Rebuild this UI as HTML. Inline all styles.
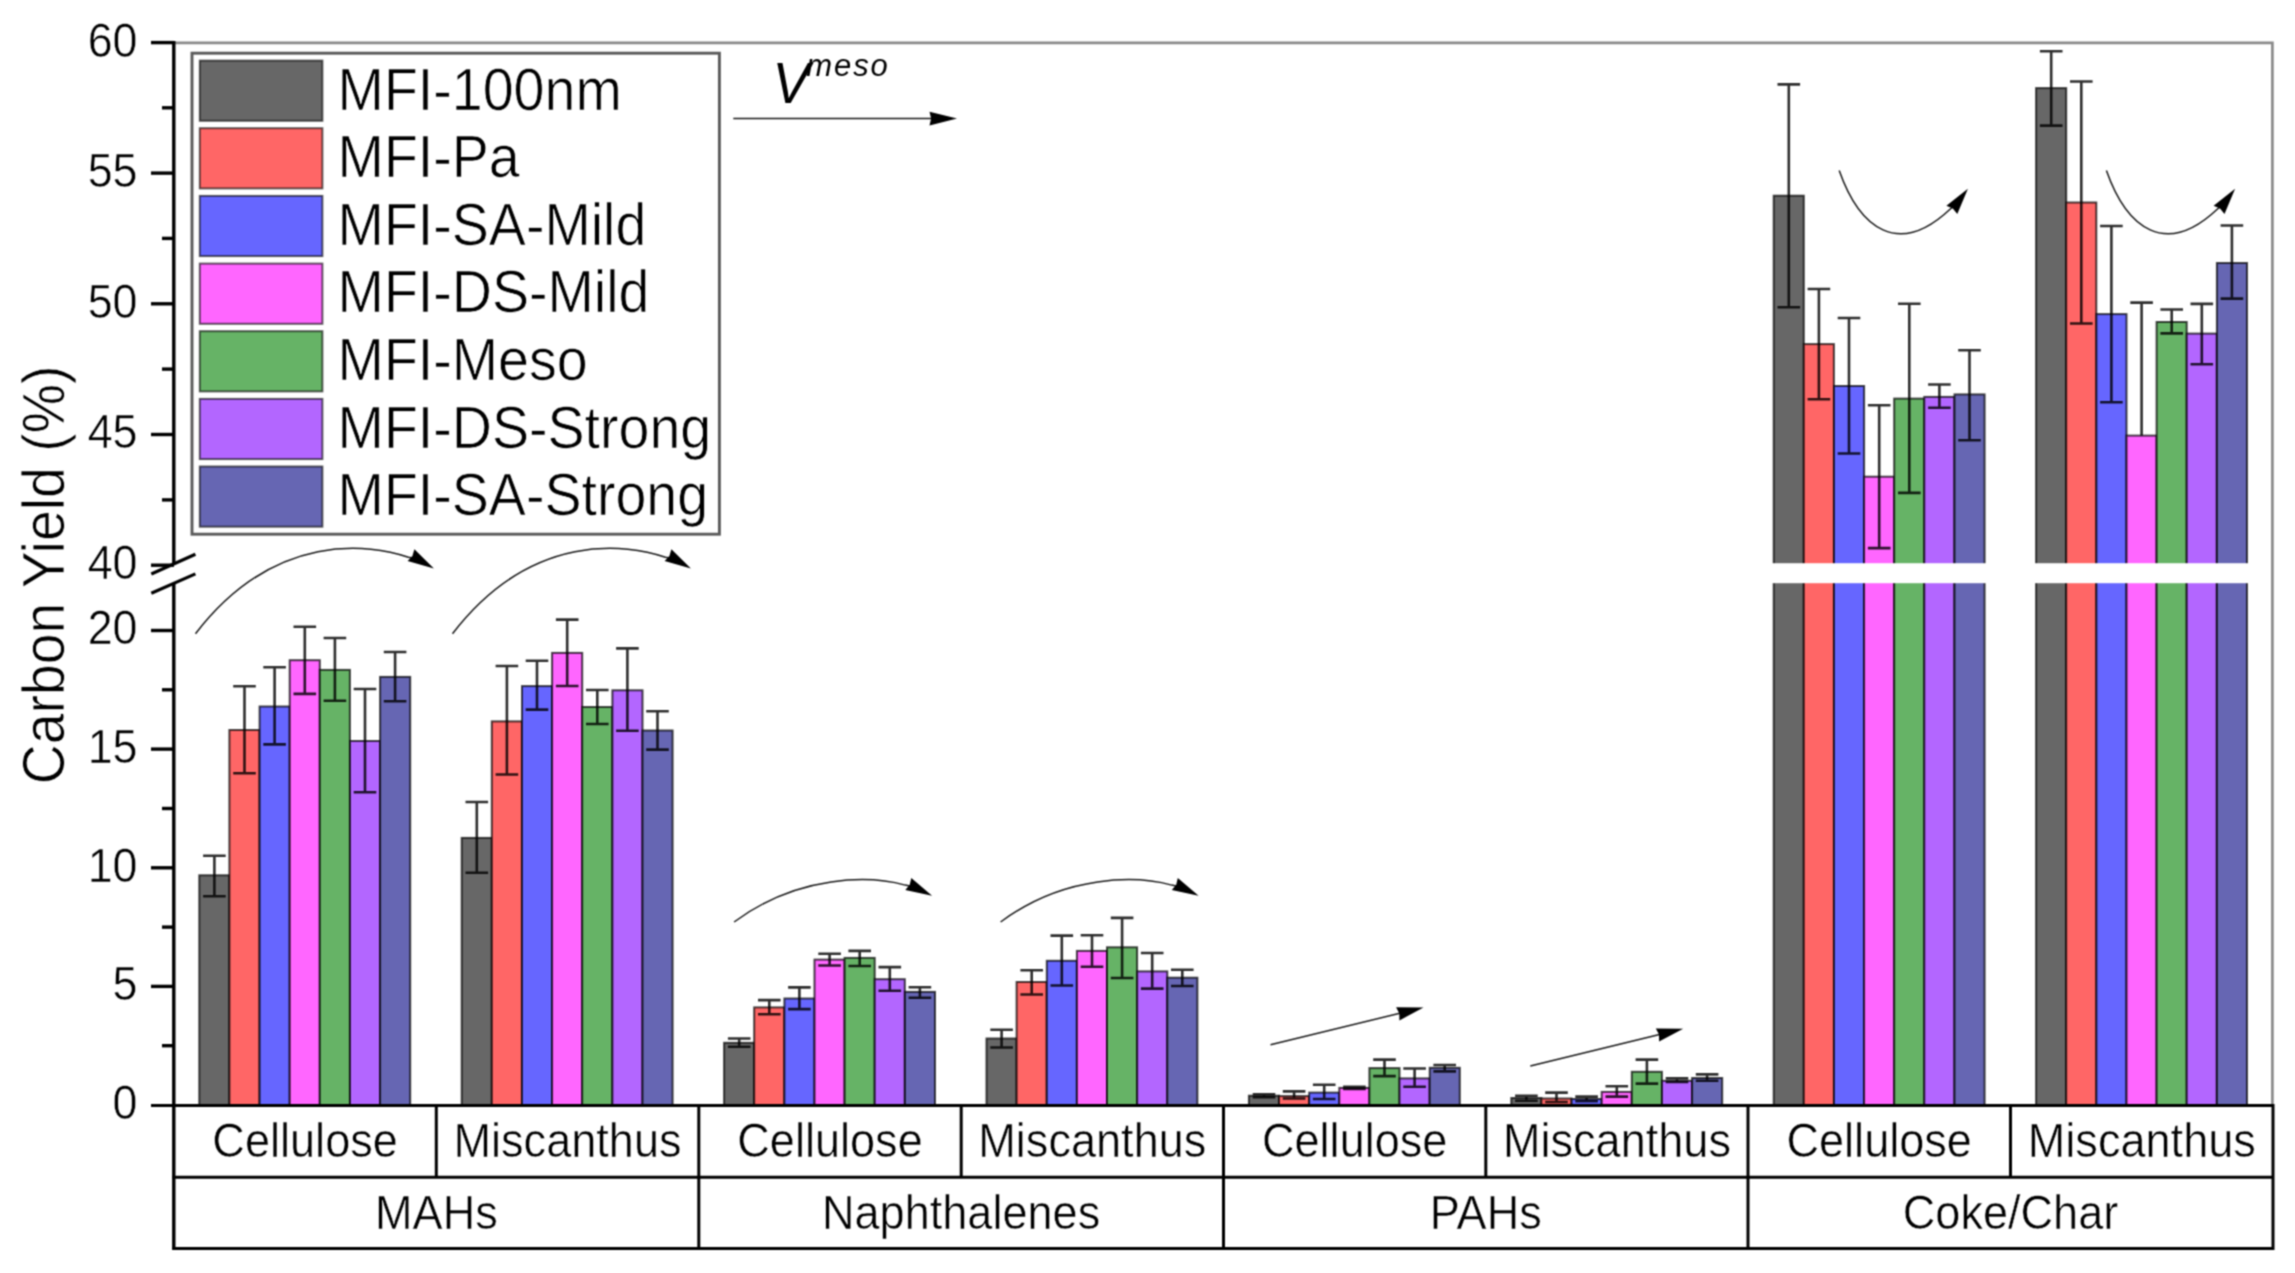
<!DOCTYPE html>
<html lang="en"><head><meta charset="utf-8"><title>Carbon Yield</title>
<style>html,body{margin:0;padding:0;background:#fff}body{width:2295px;height:1273px;overflow:hidden}svg{display:block}text{font-family:"Liberation Sans",sans-serif;fill:#000}</style></head><body>
<svg width="2295" height="1273" viewBox="0 0 2295 1273">
<defs><filter id="soft" x="0" y="0" width="100%" height="100%" filterUnits="objectBoundingBox" color-interpolation-filters="sRGB"><feConvolveMatrix order="3" kernelMatrix="0.0529 0.1242 0.0529 0.1242 0.2916 0.1242 0.0529 0.1242 0.0529" edgeMode="duplicate" preserveAlpha="true"/></filter></defs>
<g filter="url(#soft)">
<rect width="2295" height="1273" fill="#fff"/>
<path d="M174 42.8H2272.4V1105" fill="none" stroke="#8a8a8a" stroke-width="2.7"/>
<rect x="199.3" y="875.3" width="30.1" height="230.1" fill="#676767" stroke="#000" stroke-opacity=".7" stroke-width="2"/>
<rect x="229.4" y="730.0" width="30.1" height="375.4" fill="#FF6666" stroke="#000" stroke-opacity=".7" stroke-width="2"/>
<rect x="259.6" y="706.5" width="30.1" height="398.9" fill="#6666FF" stroke="#000" stroke-opacity=".7" stroke-width="2"/>
<rect x="289.7" y="660.2" width="30.1" height="445.2" fill="#FF66FF" stroke="#000" stroke-opacity=".7" stroke-width="2"/>
<rect x="319.8" y="669.9" width="30.1" height="435.5" fill="#66B366" stroke="#000" stroke-opacity=".7" stroke-width="2"/>
<rect x="350.0" y="741.0" width="30.1" height="364.4" fill="#B366FF" stroke="#000" stroke-opacity=".7" stroke-width="2"/>
<rect x="380.1" y="676.9" width="30.1" height="428.5" fill="#6666B3" stroke="#000" stroke-opacity=".7" stroke-width="2"/>
<path d="M203.1 855.7H225.7M214.4 855.7V896.3M203.1 896.3H225.7" fill="none" stroke="#000" stroke-opacity=".82" stroke-width="2.6"/>
<path d="M233.2 686.3H255.8M244.5 686.3V773.2M233.2 773.2H255.8" fill="none" stroke="#000" stroke-opacity=".82" stroke-width="2.6"/>
<path d="M263.3 667.2H285.9M274.6 667.2V744.4M263.3 744.4H285.9" fill="none" stroke="#000" stroke-opacity=".82" stroke-width="2.6"/>
<path d="M293.5 626.7H316.1M304.8 626.7V693.9M293.5 693.9H316.1" fill="none" stroke="#000" stroke-opacity=".82" stroke-width="2.6"/>
<path d="M323.6 638.0H346.2M334.9 638.0V700.7M323.6 700.7H346.2" fill="none" stroke="#000" stroke-opacity=".82" stroke-width="2.6"/>
<path d="M353.7 689.0H376.3M365.0 689.0V792.3M353.7 792.3H376.3" fill="none" stroke="#000" stroke-opacity=".82" stroke-width="2.6"/>
<path d="M383.8 652.0H406.4M395.1 652.0V701.2M383.8 701.2H406.4" fill="none" stroke="#000" stroke-opacity=".82" stroke-width="2.6"/>
<rect x="461.7" y="837.9" width="30.1" height="267.5" fill="#676767" stroke="#000" stroke-opacity=".7" stroke-width="2"/>
<rect x="491.8" y="721.4" width="30.1" height="384.0" fill="#FF6666" stroke="#000" stroke-opacity=".7" stroke-width="2"/>
<rect x="522.0" y="686.1" width="30.1" height="419.3" fill="#6666FF" stroke="#000" stroke-opacity=".7" stroke-width="2"/>
<rect x="552.1" y="652.9" width="30.1" height="452.5" fill="#FF66FF" stroke="#000" stroke-opacity=".7" stroke-width="2"/>
<rect x="582.2" y="707.0" width="30.1" height="398.4" fill="#66B366" stroke="#000" stroke-opacity=".7" stroke-width="2"/>
<rect x="612.4" y="690.3" width="30.1" height="415.1" fill="#B366FF" stroke="#000" stroke-opacity=".7" stroke-width="2"/>
<rect x="642.5" y="730.5" width="30.1" height="374.9" fill="#6666B3" stroke="#000" stroke-opacity=".7" stroke-width="2"/>
<path d="M465.5 802.0H488.1M476.8 802.0V872.7M465.5 872.7H488.1" fill="none" stroke="#000" stroke-opacity=".82" stroke-width="2.6"/>
<path d="M495.6 666.0H518.2M506.9 666.0V774.5M495.6 774.5H518.2" fill="none" stroke="#000" stroke-opacity=".82" stroke-width="2.6"/>
<path d="M525.7 660.7H548.3M537.0 660.7V709.6M525.7 709.6H548.3" fill="none" stroke="#000" stroke-opacity=".82" stroke-width="2.6"/>
<path d="M555.9 619.6H578.5M567.2 619.6V686.0M555.9 686.0H578.5" fill="none" stroke="#000" stroke-opacity=".82" stroke-width="2.6"/>
<path d="M586.0 690.0H608.6M597.3 690.0V724.0M586.0 724.0H608.6" fill="none" stroke="#000" stroke-opacity=".82" stroke-width="2.6"/>
<path d="M616.1 648.4H638.7M627.4 648.4V730.8M616.1 730.8H638.7" fill="none" stroke="#000" stroke-opacity=".82" stroke-width="2.6"/>
<path d="M646.2 711.2H668.8M657.5 711.2V749.6M646.2 749.6H668.8" fill="none" stroke="#000" stroke-opacity=".82" stroke-width="2.6"/>
<rect x="724.1" y="1042.8" width="30.1" height="62.6" fill="#676767" stroke="#000" stroke-opacity=".7" stroke-width="2"/>
<rect x="754.2" y="1007.4" width="30.1" height="98.0" fill="#FF6666" stroke="#000" stroke-opacity=".7" stroke-width="2"/>
<rect x="784.4" y="998.5" width="30.1" height="106.9" fill="#6666FF" stroke="#000" stroke-opacity=".7" stroke-width="2"/>
<rect x="814.5" y="959.6" width="30.1" height="145.8" fill="#FF66FF" stroke="#000" stroke-opacity=".7" stroke-width="2"/>
<rect x="844.6" y="957.9" width="30.1" height="147.5" fill="#66B366" stroke="#000" stroke-opacity=".7" stroke-width="2"/>
<rect x="874.7" y="979.2" width="30.1" height="126.2" fill="#B366FF" stroke="#000" stroke-opacity=".7" stroke-width="2"/>
<rect x="904.9" y="991.9" width="30.1" height="113.5" fill="#6666B3" stroke="#000" stroke-opacity=".7" stroke-width="2"/>
<path d="M727.9 1038.5H750.5M739.2 1038.5V1046.8M727.9 1046.8H750.5" fill="none" stroke="#000" stroke-opacity=".82" stroke-width="2.6"/>
<path d="M758.0 1000.1H780.6M769.3 1000.1V1014.3M758.0 1014.3H780.6" fill="none" stroke="#000" stroke-opacity=".82" stroke-width="2.6"/>
<path d="M788.1 987.4H810.7M799.4 987.4V1009.1M788.1 1009.1H810.7" fill="none" stroke="#000" stroke-opacity=".82" stroke-width="2.6"/>
<path d="M818.3 953.7H840.9M829.6 953.7V965.5M818.3 965.5H840.9" fill="none" stroke="#000" stroke-opacity=".82" stroke-width="2.6"/>
<path d="M848.4 950.9H871.0M859.7 950.9V966.0M848.4 966.0H871.0" fill="none" stroke="#000" stroke-opacity=".82" stroke-width="2.6"/>
<path d="M878.5 967.1H901.1M889.8 967.1V990.7M878.5 990.7H901.1" fill="none" stroke="#000" stroke-opacity=".82" stroke-width="2.6"/>
<path d="M908.6 987.2H931.2M919.9 987.2V997.8M908.6 997.8H931.2" fill="none" stroke="#000" stroke-opacity=".82" stroke-width="2.6"/>
<rect x="986.5" y="1038.5" width="30.1" height="66.9" fill="#676767" stroke="#000" stroke-opacity=".7" stroke-width="2"/>
<rect x="1016.6" y="982.0" width="30.1" height="123.4" fill="#FF6666" stroke="#000" stroke-opacity=".7" stroke-width="2"/>
<rect x="1046.8" y="960.8" width="30.1" height="144.6" fill="#6666FF" stroke="#000" stroke-opacity=".7" stroke-width="2"/>
<rect x="1076.9" y="950.9" width="30.1" height="154.5" fill="#FF66FF" stroke="#000" stroke-opacity=".7" stroke-width="2"/>
<rect x="1107.0" y="947.3" width="30.1" height="158.1" fill="#66B366" stroke="#000" stroke-opacity=".7" stroke-width="2"/>
<rect x="1137.2" y="971.4" width="30.1" height="134.0" fill="#B366FF" stroke="#000" stroke-opacity=".7" stroke-width="2"/>
<rect x="1167.3" y="977.7" width="30.1" height="127.7" fill="#6666B3" stroke="#000" stroke-opacity=".7" stroke-width="2"/>
<path d="M990.3 1029.8H1012.9M1001.6 1029.8V1047.5M990.3 1047.5H1012.9" fill="none" stroke="#000" stroke-opacity=".82" stroke-width="2.6"/>
<path d="M1020.4 970.2H1043.0M1031.7 970.2V994.5M1020.4 994.5H1043.0" fill="none" stroke="#000" stroke-opacity=".82" stroke-width="2.6"/>
<path d="M1050.5 935.6H1073.1M1061.8 935.6V985.5M1050.5 985.5H1073.1" fill="none" stroke="#000" stroke-opacity=".82" stroke-width="2.6"/>
<path d="M1080.7 935.3H1103.3M1092.0 935.3V966.7M1080.7 966.7H1103.3" fill="none" stroke="#000" stroke-opacity=".82" stroke-width="2.6"/>
<path d="M1110.8 917.9H1133.4M1122.1 917.9V978.0M1110.8 978.0H1133.4" fill="none" stroke="#000" stroke-opacity=".82" stroke-width="2.6"/>
<path d="M1140.9 953.0H1163.5M1152.2 953.0V988.6M1140.9 988.6H1163.5" fill="none" stroke="#000" stroke-opacity=".82" stroke-width="2.6"/>
<path d="M1171.0 969.7H1193.6M1182.3 969.7V986.0M1171.0 986.0H1193.6" fill="none" stroke="#000" stroke-opacity=".82" stroke-width="2.6"/>
<rect x="1248.9" y="1095.7" width="30.1" height="9.7" fill="#676767" stroke="#000" stroke-opacity=".7" stroke-width="2"/>
<rect x="1279.0" y="1096.1" width="30.1" height="9.3" fill="#FF6666" stroke="#000" stroke-opacity=".7" stroke-width="2"/>
<rect x="1309.2" y="1092.6" width="30.1" height="12.8" fill="#6666FF" stroke="#000" stroke-opacity=".7" stroke-width="2"/>
<rect x="1339.3" y="1087.9" width="30.1" height="17.5" fill="#FF66FF" stroke="#000" stroke-opacity=".7" stroke-width="2"/>
<rect x="1369.4" y="1068.1" width="30.1" height="37.3" fill="#66B366" stroke="#000" stroke-opacity=".7" stroke-width="2"/>
<rect x="1399.5" y="1078.4" width="30.1" height="27.0" fill="#B366FF" stroke="#000" stroke-opacity=".7" stroke-width="2"/>
<rect x="1429.7" y="1067.8" width="30.1" height="37.6" fill="#6666B3" stroke="#000" stroke-opacity=".7" stroke-width="2"/>
<path d="M1252.7 1094.2H1275.3M1264.0 1094.2V1097.3M1252.7 1097.3H1275.3" fill="none" stroke="#000" stroke-opacity=".82" stroke-width="2.6"/>
<path d="M1282.8 1091.4H1305.4M1294.1 1091.4V1098.5M1282.8 1098.5H1305.4" fill="none" stroke="#000" stroke-opacity=".82" stroke-width="2.6"/>
<path d="M1312.9 1084.8H1335.5M1324.2 1084.8V1099.0M1312.9 1099.0H1335.5" fill="none" stroke="#000" stroke-opacity=".82" stroke-width="2.6"/>
<path d="M1343.1 1086.7H1365.7M1354.4 1086.7V1089.0M1343.1 1089.0H1365.7" fill="none" stroke="#000" stroke-opacity=".82" stroke-width="2.6"/>
<path d="M1373.2 1059.6H1395.8M1384.5 1059.6V1076.1M1373.2 1076.1H1395.8" fill="none" stroke="#000" stroke-opacity=".82" stroke-width="2.6"/>
<path d="M1403.3 1068.5H1425.9M1414.6 1068.5V1086.7M1403.3 1086.7H1425.9" fill="none" stroke="#000" stroke-opacity=".82" stroke-width="2.6"/>
<path d="M1433.4 1065.0H1456.0M1444.7 1065.0V1071.4M1433.4 1071.4H1456.0" fill="none" stroke="#000" stroke-opacity=".82" stroke-width="2.6"/>
<rect x="1511.3" y="1098.0" width="30.1" height="7.4" fill="#676767" stroke="#000" stroke-opacity=".7" stroke-width="2"/>
<rect x="1541.4" y="1098.5" width="30.1" height="6.9" fill="#FF6666" stroke="#000" stroke-opacity=".7" stroke-width="2"/>
<rect x="1571.6" y="1099.0" width="30.1" height="6.4" fill="#6666FF" stroke="#000" stroke-opacity=".7" stroke-width="2"/>
<rect x="1601.7" y="1091.9" width="30.1" height="13.5" fill="#FF66FF" stroke="#000" stroke-opacity=".7" stroke-width="2"/>
<rect x="1631.8" y="1071.8" width="30.1" height="33.6" fill="#66B366" stroke="#000" stroke-opacity=".7" stroke-width="2"/>
<rect x="1662.0" y="1080.8" width="30.1" height="24.6" fill="#B366FF" stroke="#000" stroke-opacity=".7" stroke-width="2"/>
<rect x="1692.1" y="1078.0" width="30.1" height="27.4" fill="#6666B3" stroke="#000" stroke-opacity=".7" stroke-width="2"/>
<path d="M1515.1 1095.7H1537.7M1526.4 1095.7V1100.8M1515.1 1100.8H1537.7" fill="none" stroke="#000" stroke-opacity=".82" stroke-width="2.6"/>
<path d="M1545.2 1092.6H1567.8M1556.5 1092.6V1102.0M1545.2 1102.0H1567.8" fill="none" stroke="#000" stroke-opacity=".82" stroke-width="2.6"/>
<path d="M1575.3 1096.6H1597.9M1586.6 1096.6V1101.3M1575.3 1101.3H1597.9" fill="none" stroke="#000" stroke-opacity=".82" stroke-width="2.6"/>
<path d="M1605.5 1086.2H1628.1M1616.8 1086.2V1096.6M1605.5 1096.6H1628.1" fill="none" stroke="#000" stroke-opacity=".82" stroke-width="2.6"/>
<path d="M1635.6 1059.6H1658.2M1646.9 1059.6V1083.6M1635.6 1083.6H1658.2" fill="none" stroke="#000" stroke-opacity=".82" stroke-width="2.6"/>
<path d="M1665.7 1078.4H1688.3M1677.0 1078.4V1082.0M1665.7 1082.0H1688.3" fill="none" stroke="#000" stroke-opacity=".82" stroke-width="2.6"/>
<path d="M1695.8 1074.4H1718.4M1707.1 1074.4V1080.8M1695.8 1080.8H1718.4" fill="none" stroke="#000" stroke-opacity=".82" stroke-width="2.6"/>
<rect x="1773.7" y="195.7" width="30.1" height="909.7" fill="#676767" stroke="#000" stroke-opacity=".7" stroke-width="2"/>
<rect x="1803.8" y="344.1" width="30.1" height="761.3" fill="#FF6666" stroke="#000" stroke-opacity=".7" stroke-width="2"/>
<rect x="1834.0" y="386.0" width="30.1" height="719.4" fill="#6666FF" stroke="#000" stroke-opacity=".7" stroke-width="2"/>
<rect x="1864.1" y="476.7" width="30.1" height="628.7" fill="#FF66FF" stroke="#000" stroke-opacity=".7" stroke-width="2"/>
<rect x="1894.2" y="398.6" width="30.1" height="706.8" fill="#66B366" stroke="#000" stroke-opacity=".7" stroke-width="2"/>
<rect x="1924.3" y="396.9" width="30.1" height="708.5" fill="#B366FF" stroke="#000" stroke-opacity=".7" stroke-width="2"/>
<rect x="1954.5" y="394.4" width="30.1" height="711.0" fill="#6666B3" stroke="#000" stroke-opacity=".7" stroke-width="2"/>
<rect x="1770.7" y="563.2" width="216.9" height="20.0" fill="#fff"/>
<path d="M1777.5 84.4H1800.1M1788.8 84.4V307.3M1777.5 307.3H1800.1" fill="none" stroke="#000" stroke-opacity=".82" stroke-width="2.6"/>
<path d="M1807.6 289.0H1830.2M1818.9 289.0V399.3M1807.6 399.3H1830.2" fill="none" stroke="#000" stroke-opacity=".82" stroke-width="2.6"/>
<path d="M1837.7 318.0H1860.3M1849.0 318.0V453.5M1837.7 453.5H1860.3" fill="none" stroke="#000" stroke-opacity=".82" stroke-width="2.6"/>
<path d="M1867.9 405.3H1890.5M1879.2 405.3V548.1M1867.9 548.1H1890.5" fill="none" stroke="#000" stroke-opacity=".82" stroke-width="2.6"/>
<path d="M1898.0 303.8H1920.6M1909.3 303.8V492.9M1898.0 492.9H1920.6" fill="none" stroke="#000" stroke-opacity=".82" stroke-width="2.6"/>
<path d="M1928.1 384.5H1950.7M1939.4 384.5V407.8M1928.1 407.8H1950.7" fill="none" stroke="#000" stroke-opacity=".82" stroke-width="2.6"/>
<path d="M1958.2 350.2H1980.8M1969.5 350.2V440.2M1958.2 440.2H1980.8" fill="none" stroke="#000" stroke-opacity=".82" stroke-width="2.6"/>
<rect x="2036.1" y="88.1" width="30.1" height="1017.3" fill="#676767" stroke="#000" stroke-opacity=".7" stroke-width="2"/>
<rect x="2066.2" y="202.5" width="30.1" height="902.9" fill="#FF6666" stroke="#000" stroke-opacity=".7" stroke-width="2"/>
<rect x="2096.4" y="314.1" width="30.1" height="791.3" fill="#6666FF" stroke="#000" stroke-opacity=".7" stroke-width="2"/>
<rect x="2126.5" y="435.6" width="30.1" height="669.8" fill="#FF66FF" stroke="#000" stroke-opacity=".7" stroke-width="2"/>
<rect x="2156.6" y="322.0" width="30.1" height="783.4" fill="#66B366" stroke="#000" stroke-opacity=".7" stroke-width="2"/>
<rect x="2186.7" y="333.6" width="30.1" height="771.8" fill="#B366FF" stroke="#000" stroke-opacity=".7" stroke-width="2"/>
<rect x="2216.9" y="263.0" width="30.1" height="842.4" fill="#6666B3" stroke="#000" stroke-opacity=".7" stroke-width="2"/>
<rect x="2033.1" y="563.2" width="216.9" height="20.0" fill="#fff"/>
<path d="M2039.9 51.3H2062.5M2051.2 51.3V125.6M2039.9 125.6H2062.5" fill="none" stroke="#000" stroke-opacity=".82" stroke-width="2.6"/>
<path d="M2070.0 81.5H2092.6M2081.3 81.5V323.5M2070.0 323.5H2092.6" fill="none" stroke="#000" stroke-opacity=".82" stroke-width="2.6"/>
<path d="M2100.1 226.0H2122.7M2111.4 226.0V402.2M2100.1 402.2H2122.7" fill="none" stroke="#000" stroke-opacity=".82" stroke-width="2.6"/>
<path d="M2130.3 302.6H2152.9M2141.6 302.6V435.6" fill="none" stroke="#000" stroke-opacity=".82" stroke-width="2.6"/>
<path d="M2160.4 309.5H2183.0M2171.7 309.5V333.4M2160.4 333.4H2183.0" fill="none" stroke="#000" stroke-opacity=".82" stroke-width="2.6"/>
<path d="M2190.5 303.9H2213.1M2201.8 303.9V364.2M2190.5 364.2H2213.1" fill="none" stroke="#000" stroke-opacity=".82" stroke-width="2.6"/>
<path d="M2220.6 225.5H2243.2M2231.9 225.5V298.6M2220.6 298.6H2243.2" fill="none" stroke="#000" stroke-opacity=".82" stroke-width="2.6"/>
<g stroke="#000" stroke-width="3.4" fill="none">
<path d="M173.8 41V564.5M173.8 583.2V1249.8"/>
<path d="M151 42.6H174"/>
<path d="M151 173.1H174"/>
<path d="M151 303.8H174"/>
<path d="M151 434.5H174"/>
<path d="M151 565.2H174"/>
<path d="M162 107.8H174"/>
<path d="M162 238.4H174"/>
<path d="M162 369.1H174"/>
<path d="M162 499.9H174"/>
<path d="M151 630.5H174"/>
<path d="M151 749.1H174"/>
<path d="M151 867.8H174"/>
<path d="M151 986.4H174"/>
<path d="M162 689.8H174"/>
<path d="M162 808.5H174"/>
<path d="M162 927.1H174"/>
<path d="M162 1045.7H174"/>
<path d="M151.3 574L195.4 554.3M151.3 593.2L195.4 573.9" stroke-width="3.2"/>
</g>
<g stroke="#000" stroke-width="3" fill="none">
<path d="M151 1105.4H2274.5M172.3 1177.2H2274.5M172.3 1248.4H2274.5M2273 1105.4V1249.9"/>
<path d="M436.3 1105.4V1177.2"/>
<path d="M698.8 1105.4V1177.2"/>
<path d="M961.2 1105.4V1177.2"/>
<path d="M1223.5 1105.4V1177.2"/>
<path d="M1485.8 1105.4V1177.2"/>
<path d="M1748.0 1105.4V1177.2"/>
<path d="M2010.5 1105.4V1177.2"/>
<path d="M698.8 1177.2V1248.4"/>
<path d="M1223.5 1177.2V1248.4"/>
<path d="M1748.0 1177.2V1248.4"/>
</g>
<text transform="translate(305.1 1157.2) scale(1 1.055)" font-size="45.1" text-anchor="middle" stroke="#fff" stroke-width=".5">Cellulose</text>
<text transform="translate(567.5 1157.2) scale(1 1.055)" font-size="45.1" text-anchor="middle" stroke="#fff" stroke-width=".5">Miscanthus</text>
<text transform="translate(830.0 1157.2) scale(1 1.055)" font-size="45.1" text-anchor="middle" stroke="#fff" stroke-width=".5">Cellulose</text>
<text transform="translate(1092.3 1157.2) scale(1 1.055)" font-size="45.1" text-anchor="middle" stroke="#fff" stroke-width=".5">Miscanthus</text>
<text transform="translate(1354.7 1157.2) scale(1 1.055)" font-size="45.1" text-anchor="middle" stroke="#fff" stroke-width=".5">Cellulose</text>
<text transform="translate(1616.9 1157.2) scale(1 1.055)" font-size="45.1" text-anchor="middle" stroke="#fff" stroke-width=".5">Miscanthus</text>
<text transform="translate(1879.2 1157.2) scale(1 1.055)" font-size="45.1" text-anchor="middle" stroke="#fff" stroke-width=".5">Cellulose</text>
<text transform="translate(2141.8 1157.2) scale(1 1.055)" font-size="45.1" text-anchor="middle" stroke="#fff" stroke-width=".5">Miscanthus</text>
<text transform="translate(436.4 1228.8) scale(1 1.055)" font-size="45.1" text-anchor="middle" stroke="#fff" stroke-width=".5">MAHs</text>
<text transform="translate(961.1 1228.8) scale(1 1.055)" font-size="45.1" text-anchor="middle" stroke="#fff" stroke-width=".5">Naphthalenes</text>
<text transform="translate(1485.8 1228.8) scale(1 1.055)" font-size="45.1" text-anchor="middle" stroke="#fff" stroke-width=".5">PAHs</text>
<text transform="translate(2010.5 1228.8) scale(1 1.055)" font-size="45.1" text-anchor="middle" stroke="#fff" stroke-width=".5">Coke/Char</text>
<text transform="translate(137.5 56.5) scale(1 1.055)" font-size="44.8" text-anchor="end" stroke="#fff" stroke-width=".5">60</text>
<text transform="translate(137.5 187.0) scale(1 1.055)" font-size="44.8" text-anchor="end" stroke="#fff" stroke-width=".5">55</text>
<text transform="translate(137.5 317.7) scale(1 1.055)" font-size="44.8" text-anchor="end" stroke="#fff" stroke-width=".5">50</text>
<text transform="translate(137.5 448.4) scale(1 1.055)" font-size="44.8" text-anchor="end" stroke="#fff" stroke-width=".5">45</text>
<text transform="translate(137.5 579.1) scale(1 1.055)" font-size="44.8" text-anchor="end" stroke="#fff" stroke-width=".5">40</text>
<text transform="translate(137.5 644.4) scale(1 1.055)" font-size="44.8" text-anchor="end" stroke="#fff" stroke-width=".5">20</text>
<text transform="translate(137.5 763.0) scale(1 1.055)" font-size="44.8" text-anchor="end" stroke="#fff" stroke-width=".5">15</text>
<text transform="translate(137.5 881.7) scale(1 1.055)" font-size="44.8" text-anchor="end" stroke="#fff" stroke-width=".5">10</text>
<text transform="translate(137.5 1000.3) scale(1 1.055)" font-size="44.8" text-anchor="end" stroke="#fff" stroke-width=".5">5</text>
<text transform="translate(137.5 1118.9) scale(1 1.055)" font-size="44.8" text-anchor="end" stroke="#fff" stroke-width=".5">0</text>
<text transform="translate(64 575) rotate(-90) scale(1 1.055)" font-size="55.4" text-anchor="middle" stroke="#fff" stroke-width=".7">Carbon Yield (%)</text>
<rect x="192" y="53.2" width="527.4" height="481" fill="#fff" stroke="#5a5a5a" stroke-width="2.9"/>
<rect x="199.8" y="60.6" width="122.6" height="60.2" fill="#676767" stroke="#000" stroke-opacity=".6" stroke-width="2"/>
<text transform="translate(337.6 109.5) scale(1 1.055)" font-size="55.6" stroke="#fff" stroke-width=".7">MFI-100nm</text>
<rect x="199.8" y="128.2" width="122.6" height="60.2" fill="#FF6666" stroke="#000" stroke-opacity=".6" stroke-width="2"/>
<text transform="translate(337.6 177.2) scale(1 1.055)" font-size="55.6" stroke="#fff" stroke-width=".7">MFI-Pa</text>
<rect x="199.8" y="195.9" width="122.6" height="60.2" fill="#6666FF" stroke="#000" stroke-opacity=".6" stroke-width="2"/>
<text transform="translate(337.6 244.8) scale(1 1.055)" font-size="55.6" stroke="#fff" stroke-width=".7">MFI-SA-Mild</text>
<rect x="199.8" y="263.6" width="122.6" height="60.2" fill="#FF66FF" stroke="#000" stroke-opacity=".6" stroke-width="2"/>
<text transform="translate(337.6 312.4) scale(1 1.055)" font-size="55.6" stroke="#fff" stroke-width=".7">MFI-DS-Mild</text>
<rect x="199.8" y="331.2" width="122.6" height="60.2" fill="#66B366" stroke="#000" stroke-opacity=".6" stroke-width="2"/>
<text transform="translate(337.6 380.1) scale(1 1.055)" font-size="55.6" stroke="#fff" stroke-width=".7">MFI-Meso</text>
<rect x="199.8" y="398.9" width="122.6" height="60.2" fill="#B366FF" stroke="#000" stroke-opacity=".6" stroke-width="2"/>
<text transform="translate(337.6 447.8) scale(1 1.055)" font-size="55.6" stroke="#fff" stroke-width=".7">MFI-DS-Strong</text>
<rect x="199.8" y="466.5" width="122.6" height="60.2" fill="#6666B3" stroke="#000" stroke-opacity=".6" stroke-width="2"/>
<text transform="translate(337.6 515.4) scale(1 1.055)" font-size="55.6" stroke="#fff" stroke-width=".7">MFI-SA-Strong</text>
<text transform="translate(772.5 102.6) scale(.95 1)" font-size="58" font-style="italic">V</text>
<text x="806.3" y="75.8" font-size="31" letter-spacing="1.9" font-style="italic">meso</text>
<path d="M733.3 118.6L935.0 118.6" fill="none" stroke="#000" stroke-opacity=".9" stroke-width="1.5"/><path d="M957.0 118.6L929.5 111.8L931.1 118.6L929.5 125.4Z" fill="#000"/>
<path d="M195.5 633.7C275.3 529.9 371.3 544.4 408.4 557.2L416.7 558.5" fill="none" stroke="#000" stroke-opacity=".9" stroke-width="1.5"/><path d="M433.9 568.5L414.4 549.3L412.4 556.0L407.6 561.0Z" fill="#000"/>
<path d="M452.5 633.7C532.3 529.9 628.3 544.4 665.4 557.2L673.7 558.5" fill="none" stroke="#000" stroke-opacity=".9" stroke-width="1.5"/><path d="M690.9 568.5L671.4 549.3L669.4 556.0L664.6 561.0Z" fill="#000"/>
<path d="M734.1 922.0C798.8 873.8 871.0 875.6 905.2 885.1L914.3 886.9" fill="none" stroke="#000" stroke-opacity=".9" stroke-width="1.5"/><path d="M932.1 895.7L911.3 877.9L909.7 884.7L905.3 890.1Z" fill="#000"/>
<path d="M1000.6 922.0C1065.3 873.8 1137.5 875.6 1171.7 885.1L1180.8 886.9" fill="none" stroke="#000" stroke-opacity=".9" stroke-width="1.5"/><path d="M1198.6 895.7L1177.8 877.9L1176.2 884.7L1171.8 890.1Z" fill="#000"/>
<path d="M1270.5 1044.8L1402.9 1012.5" fill="none" stroke="#000" stroke-opacity=".9" stroke-width="1.5"/><path d="M1423.5 1007.5L1396.1 1007.2L1399.3 1013.4L1399.4 1020.4Z" fill="#000"/>
<path d="M1530.3 1065.9L1662.6 1033.7" fill="none" stroke="#000" stroke-opacity=".9" stroke-width="1.5"/><path d="M1683.2 1028.7L1655.8 1028.4L1659.0 1034.6L1659.1 1041.6Z" fill="#000"/>
<path d="M1839.2 170.5C1859.6 228.6 1898.6 257.9 1950.3 209.0L1955.9 204.6" fill="none" stroke="#000" stroke-opacity=".9" stroke-width="1.5"/><path d="M1967.9 188.8L1946.4 205.8L1952.8 208.6L1957.3 214.0Z" fill="#000"/>
<path d="M2106.4 170.5C2126.8 228.6 2165.8 257.9 2217.5 209.0L2223.1 204.6" fill="none" stroke="#000" stroke-opacity=".9" stroke-width="1.5"/><path d="M2235.1 188.8L2213.6 205.8L2220.0 208.6L2224.5 214.0Z" fill="#000"/>
</g></svg></body></html>
